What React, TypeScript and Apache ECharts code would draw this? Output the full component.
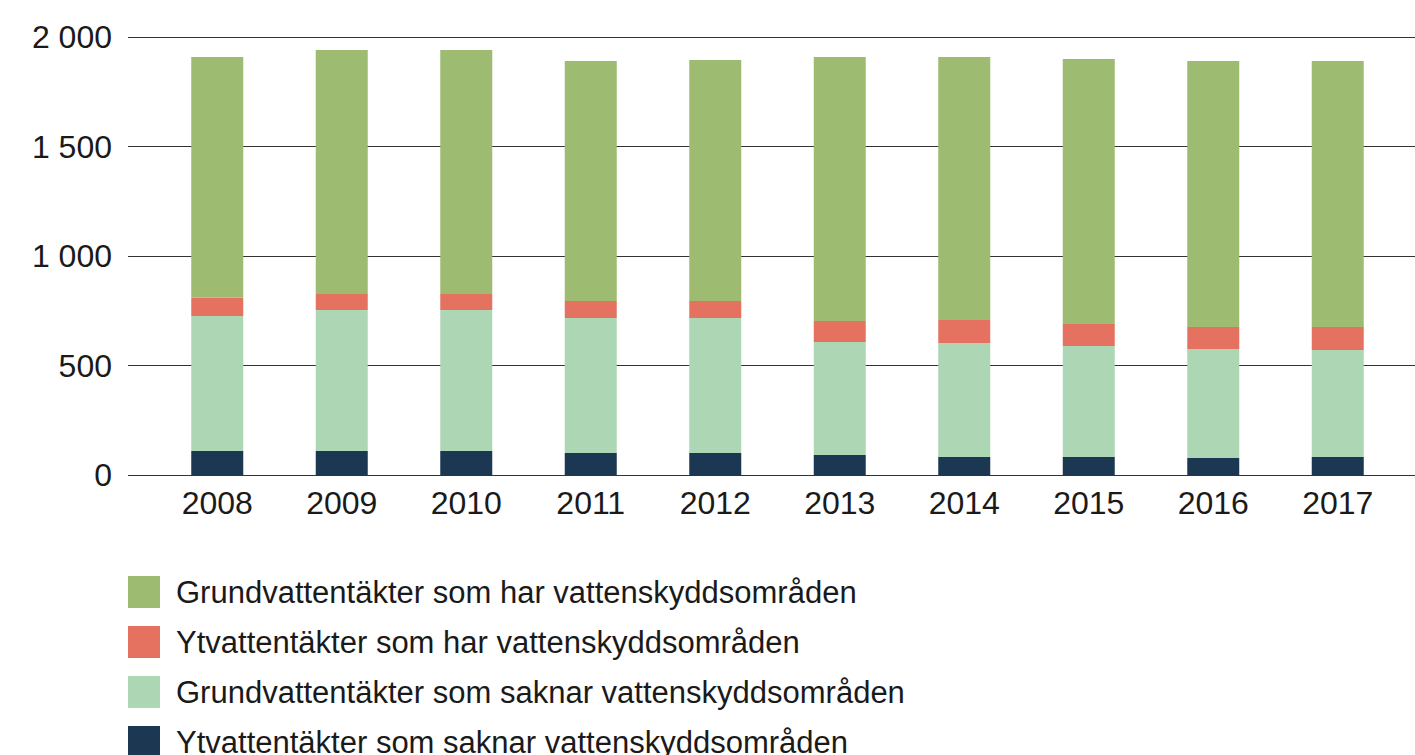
import React, { useEffect, useRef } from "react";
import * as echarts from "echarts";

const years = ["2008", "2009", "2010", "2011", "2012", "2013", "2014", "2015", "2016", "2017"];
const ytSaknar = [110, 110, 110, 100, 100, 91, 82, 82, 78, 82];
const grundSaknar = [616, 643, 643, 617, 617, 516, 521, 507, 497, 489];
const ytHar = [84, 73, 73, 78, 78, 96, 105, 100, 101, 105];
const grundHar = [1099, 1115, 1115, 1095, 1100, 1206, 1201, 1211, 1214, 1214];

const names = [
  "Grundvattentäkter som har vattenskyddsområden",
  "Ytvattentäkter som har vattenskyddsområden",
  "Grundvattentäkter som saknar vattenskyddsområden",
  "Ytvattentäkter som saknar vattenskyddsområden",
];
const colors = ["#9dbc72", "#e57261", "#add6b4", "#1b3752"];

const FONT = "'Liberation Sans', Arial, sans-serif";

export default function App() {
  const ref = useRef<HTMLDivElement>(null);
  useEffect(() => {
    const chart = echarts.init(ref.current!, null, { renderer: "svg" });
    const fmt = (v: number) => String(v).replace(/\B(?=(\d{3})+(?!\d))/g, " ");
    const mk = (name: string, data: number[], color: string) => ({
      name,
      type: "bar",
      stack: "total",
      data,
      barWidth: 52,
      xAxisIndex: 0,
      yAxisIndex: 0,
      itemStyle: { color },
    });
    chart.setOption({
      animation: false,
      textStyle: { fontFamily: FONT },
      grid: [
        { left: 155, width: 1245, top: 37, bottom: 280 },
        { left: 128, right: 0, top: 37, bottom: 280 },
      ],
      xAxis: [
        {
          type: "category",
          data: years,
          gridIndex: 0,
          axisLine: { show: false },
          axisTick: { show: false },
          axisLabel: { fontSize: 32, color: "#1a1a1a", margin: 12, fontFamily: FONT },
        },
        { type: "value", gridIndex: 1, show: false, min: 0, max: 1 },
      ],
      yAxis: [
        { type: "value", gridIndex: 0, min: 0, max: 2000, interval: 500, show: false },
        {
          type: "value",
          gridIndex: 1,
          min: 0,
          max: 2000,
          interval: 500,
          axisLine: { show: false },
          axisTick: { show: false },
          splitLine: { lineStyle: { color: "#333", width: 1.2 } },
          axisLabel: { fontSize: 32, color: "#1a1a1a", margin: 16, formatter: fmt, fontFamily: FONT },
        },
      ],
      legend: {
        orient: "vertical",
        left: 128,
        top: 576,
        height: 400,
        padding: 0,
        itemWidth: 32,
        itemHeight: 32,
        itemGap: 18,
        icon: "rect",
        data: names,
        textStyle: { fontSize: 31, color: "#1a1a1a", padding: [0, 0, 0, 11], fontFamily: FONT },
      },
      series: [
        mk(names[3], ytSaknar, colors[3]),
        mk(names[2], grundSaknar, colors[2]),
        mk(names[1], ytHar, colors[1]),
        mk(names[0], grundHar, colors[0]),
      ],
    });
    return () => chart.dispose();
  }, []);
  return (
    <div
      ref={ref}
      style={{ position: "fixed", left: 0, top: 0, width: 1415, height: 755, background: "#fff" }}
    />
  );
}
